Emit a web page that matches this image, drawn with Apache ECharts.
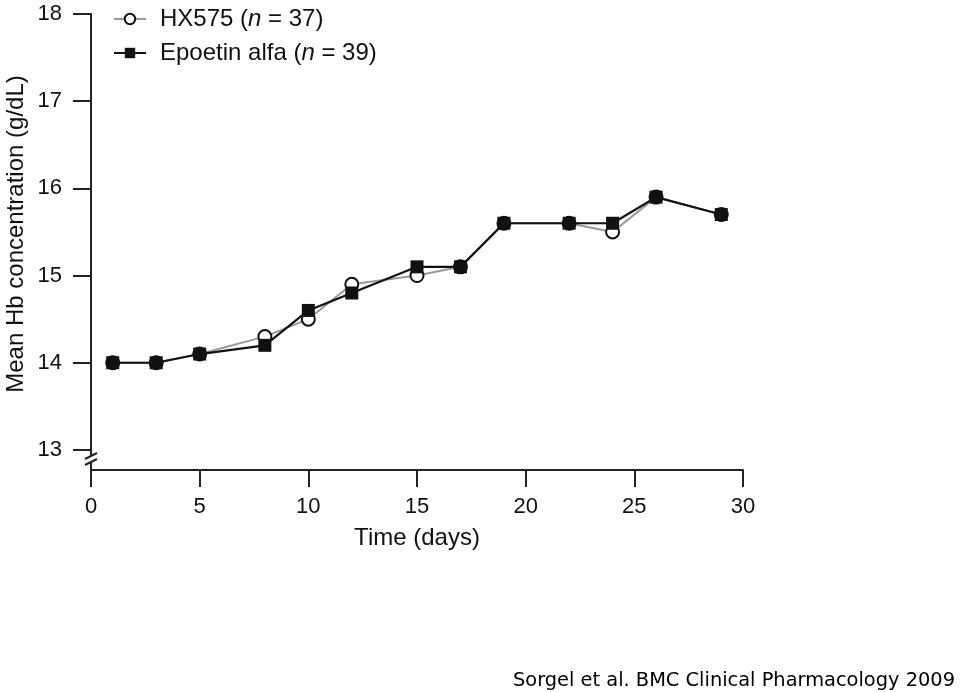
<!DOCTYPE html>
<html>
<head>
<meta charset="utf-8">
<script src="https://cdn.jsdelivr.net/npm/echarts@6/dist/echarts.min.js"></script>
<style>
  html, body { margin: 0; padding: 0; background: #fff; }
  #chart { width: 960px; height: 692px; }
</style>
</head>
<body>
<div id="chart"></div>
<script>
// time points (days)
const days = [1, 3, 5, 8, 10, 12, 15, 17, 19, 22, 24, 26, 29];
// mean Hb (g/dL)
const hx575 = [14.0, 14.0, 14.1, 14.3, 14.5, 14.9, 15.0, 15.1, 15.6, 15.6, 15.5, 15.9, 15.7];
const epoetin = [14.0, 14.0, 14.1, 14.2, 14.6, 14.8, 15.1, 15.1, 15.6, 15.6, 15.6, 15.9, 15.7];
const yTicks = [13, 14, 15, 16, 17, 18];
const xTicks = [0, 5, 10, 15, 20, 25, 30];

const font = 'Liberation Sans, Arial, sans-serif';

const pair = (arr) => days.map((d, i) => [d, arr[i]]);

const chart = echarts.init(document.getElementById('chart'));

const options = {
  animation: false,
  backgroundColor: '#fff',
  grid: { left: 91, right: 217, top: 14, bottom: 222 },
  legend: {
    orient: 'vertical',
    left: 113,
    top: 7,
    padding: 0,
    itemGap: 10,
    itemWidth: 32,
    itemHeight: 13,
    textStyle: {
      fontFamily: font, fontSize: 24, color: '#111',
      padding: [0, 0, 0, 9],
      rich: { i: { fontFamily: font, fontSize: 24, fontStyle: 'italic', color: '#111' } }
    },
    data: [
      { name: 'HX575 (n = 37)' },
      { name: 'Epoetin alfa (n = 39)' }
    ],
    formatter: function (name) {
      return name.replace('(n', '({i|n}');
    }
  },
  xAxis: {
    type: 'value',
    min: 0,
    max: 30,
    interval: 5,
    splitLine: { show: false },
    axisLine: { lineStyle: { color: '#222', width: 2 } },
    axisTick: { length: 17, lineStyle: { color: '#222', width: 2 }, customValues: xTicks },
    axisLabel: {
      customValues: xTicks,
      margin: 26,
      fontFamily: font, fontSize: 22, color: '#111'
    },
    name: 'Time (days)',
    nameLocation: 'middle',
    nameGap: 56,
    nameTextStyle: { fontFamily: font, fontSize: 24, color: '#111' }
  },
  yAxis: {
    type: 'value',
    min: 12.77,
    max: 18,
    splitLine: { show: false },
    axisLine: { show: true, lineStyle: { color: '#222', width: 2 } },
    axisTick: { show: true, length: 18, lineStyle: { color: '#222', width: 2 }, customValues: yTicks },
    axisLabel: {
      customValues: yTicks,
      margin: 29,
      fontFamily: font, fontSize: 22, color: '#111'
    }
  },
  graphic: [
    // axis break marks
    { type: 'rect', shape: { x: 84, y: 455, width: 14, height: 8 }, style: { fill: '#fff' }, z: 100 },
    { type: 'line', shape: { x1: 85, y1: 459, x2: 97, y2: 453 }, style: { stroke: '#222', lineWidth: 2 }, z: 101 },
    { type: 'line', shape: { x1: 85, y1: 465, x2: 97, y2: 459 }, style: { stroke: '#222', lineWidth: 2 }, z: 101 },
    {
      type: 'text',
      x: 16, y: 234,
      rotation: Math.PI / 2,
      style: {
        text: 'Mean Hb concentration (g/dL)',
        font: '24px ' + font,
        fill: '#111',
        align: 'center',
        verticalAlign: 'middle'
      }
    },
    {
      type: 'text',
      right: 5, bottom: 2,
      style: {
        text: 'Sorgel et al. BMC Clinical Pharmacology 2009',
        font: '19.4px DejaVu Sans, sans-serif',
        fill: '#000'
      }
    }
  ],
  series: [
    {
      name: 'HX575 (n = 37)',
      type: 'line',
      data: pair(hx575),
      symbol: 'circle',
      symbolSize: 13,
      lineStyle: { color: '#999', width: 2 },
      itemStyle: { color: '#fff', borderColor: '#111', borderWidth: 2 },
      z: 2
    },
    {
      name: 'Epoetin alfa (n = 39)',
      type: 'line',
      data: pair(epoetin),
      symbol: 'rect',
      symbolSize: 13,
      lineStyle: { color: '#111', width: 2.2 },
      itemStyle: { color: '#111' },
      z: 3
    }
  ]
};

chart.setOption(options);
window.addEventListener('resize', function () {
  chart && chart.resize();
});
</script>
</body>
</html>
